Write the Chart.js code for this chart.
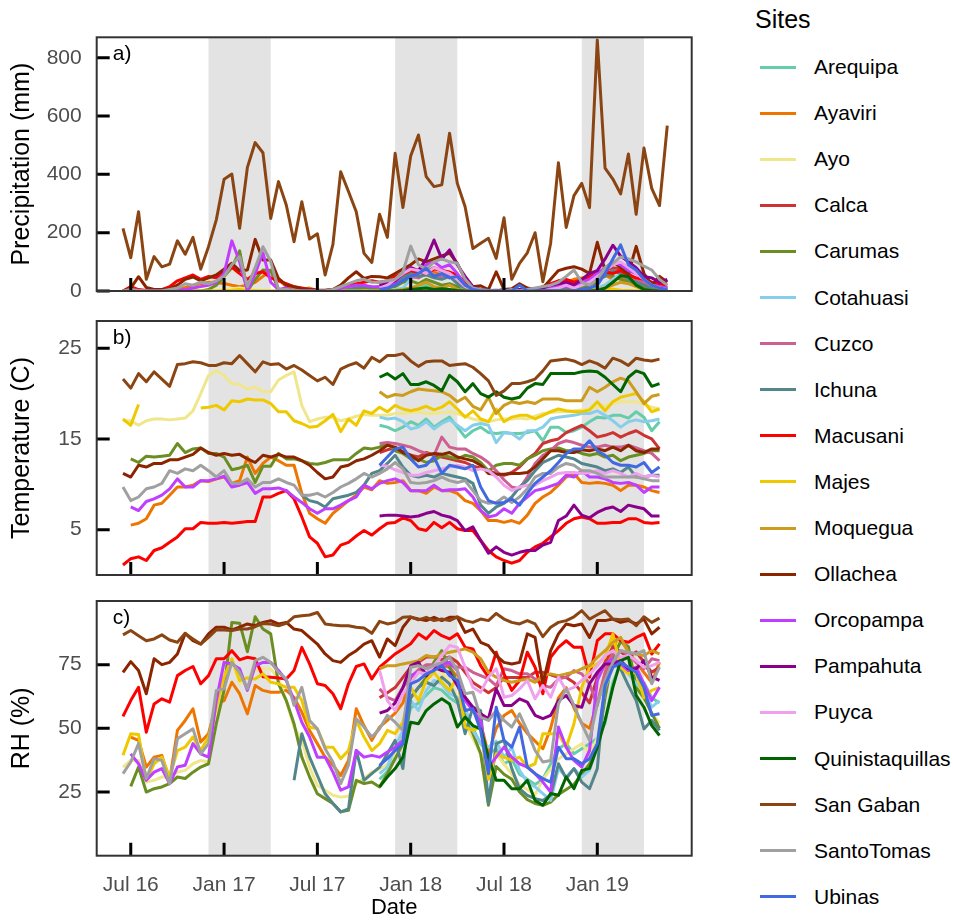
<!DOCTYPE html>
<html>
<head>
<meta charset="utf-8">
<title>Sites: precipitation, temperature and RH</title>
<script src="https://cdn.jsdelivr.net/npm/chart.js@4.4.1/dist/chart.umd.min.js"></script>
<style>
  html, body { margin: 0; padding: 0; background: #fff; }
  #wrap { position: relative; width: 953px; height: 921px; overflow: hidden;
          font-family: "Liberation Sans", Arial, Helvetica, sans-serif; }
  #wrap canvas { position: absolute; left: 0; }
  #legendTitle { position: absolute; left: 755px; top: 4px; font-size: 25px; line-height: 30px; color: #000; }
  .lg-row { position: absolute; left: 0; width: 213px; height: 30px; }
  .lg-key { position: absolute; left: 760px; width: 36px; height: 3px; top: 13.5px; }
  .lg-text { position: absolute; left: 814px; top: 0; font-size: 21px; line-height: 30px; color: #000; white-space: nowrap; }
</style>
</head>
<body>
<div id="wrap">
  <canvas id="panelA" width="700" height="321" style="top:0px"></canvas>
  <canvas id="panelB" width="700" height="315" style="top:290px"></canvas>
  <canvas id="panelC" width="700" height="351" style="top:570px"></canvas>
  <div id="legendTitle">Sites</div>
  <div id="legendRows"></div>
</div>
<script>
// ---- sites and colours ----
const sites = ['Arequipa','Ayaviri','Ayo','Calca','Carumas','Cotahuasi','Cuzco','Ichuna','Macusani','Majes',
               'Moquegua','Ollachea','Orcopampa','Pampahuta','Puyca','Quinistaquillas','San Gaban','SantoTomas','Ubinas'];
const siteColors = ['#66CDAA','#EE7600','#F0E68C','#CD3333','#6B8E23','#87CEEB','#CD6090','#53868B','#FF0000','#EEC900',
                    '#CD9B1D','#8B2500','#BF3EFF','#8B008B','#EEA2EE','#006400','#8B4513','#A0A0A0','#4169E1'];

// ---- time axis (months counted from Jan 2016; samples every half month from mid-Jun 2016) ----
const firstPeriod = 5.5;
const periodCount = 71;
const periods = Array.from({length: periodCount}, (_, k) => firstPeriod + k / 2);
const tickMonths = [6, 12, 18, 24, 30, 36];
const tickLabels = ['Jul 16', 'Jan 17', 'Jul 17', 'Jan 18', 'Jul 18', 'Jan 19'];
const wetSeasons = [[11, 15], [23, 27], [35, 39]];   // Dec-Mar shading
const xMin = 3.81, xMax = 42.07;

const gap = n => Array(n).fill(null);
const join = (...parts) => [].concat(...parts);

// ---- precipitation (mm) ----
const precipArequipa = join(gap(33), [0,0,2,5,10,15,20,10,15,20,10,5,0,0,0,0,0,0,0,0,0,0,0,0,0,0,0,5,10,20,40,50,30,20,10,5,3,0]);
const precipAyaviri = join(gap(1), [3,0,0,0,0,2,5,12,20,25,30,28,26,20,15,20,30,50,72,40,15,10,5,10,2,0,0,0,5,10,15,10],
  [10,15,30,45,55,70,60,65,55,60,40,15,5,0,0,0,0,0,2,0,3,10,15,20,30,40,45,50,60,55,40,45,35,20,15,10,8,5]);
const precipAyo = join([0,0,0,0,0,0,0,0,0,0,0,0,2,5,8,10,5,3,2,0,0,0,0,0,0,0,0,0,0,0,0,0,0],
  [0,0,0,2,5,3,5,2,2,0,0,0,0,0,0,0,0,0,0,0,0,0,0,0,0,0,0,2,5,8,5,3,2,0,0,0,0,0]);
const precipCalca = join(gap(33), [20,25,40,55,60,70,65,80,70,60,40,15,5,0,0,0,0,0,5,0,5,10,20,30,35,30,40,50,60,70,80,75,60,40,30,20,15,10]);
const precipCarumas = join(gap(1), [0,0,0,0,0,0,0,0,0,0,5,20,50,80,138,0,40,72,70,5,0,0,0,0,0,0,0,0,0,5,10,8],
  [5,8,15,30,35,25,40,30,20,25,15,5,0,0,0,0,0,0,0,0,0,0,0,5,5,8,10,20,30,60,50,40,30,20,10,5,5,3]);
const precipCotahuasi = join(gap(33), [0,0,5,10,40,60,70,55,45,50,30,5,0,0,0,0,0,0,0,0,0,0,0,0,0,0,0,5,10,20,40,60,80,70,50,30,15,5]);
const precipCuzco = join(gap(33), [15,20,30,40,50,45,60,55,50,60,40,15,5,0,0,0,0,0,5,0,5,10,15,20,25,20,25,40,50,60,70,65,50,40,30,20,15,10]);
const precipIchuna = join(gap(22), [0,0,0,0,0,0,2,5,10,15,10],
  [15,20,30,45,60,50,55,45,40,50,25,10,2,0,0,0,0,0,0,0,2,5,5,10,15,10,20,30,40,50,70,60,40,30,20,10,10,5]);
const precipMacusani = join([0,15,5,2,3,5,15,35,45,55,40,50,45,70,81,60,40,60,66,45,35,25,15,10,5,3,2,5,10,20,25,30,35],
  [30,35,50,60,70,65,60,75,70,65,55,30,10,5,2,3,2,3,5,2,5,15,25,35,40,30,35,45,60,65,60,70,55,45,40,30,25,20]);
const precipMajes = join([0,0,0,0,0,0,0,0,0,0,0,0,0,2,3,5,2,1,0,0,0,0,0,0,0,0,0,0,0,0,0,0,0],
  [0,0,0,0,2,3,2,3,1,0,0,0,0,0,0,0,0,0,0,0,0,0,0,0,0,0,0,0,2,4,6,3,2,0,0,0,0,0]);
const precipMoquegua = join(gap(33), [0,0,2,5,10,20,30,15,10,20,5,0,0,0,0,0,0,0,0,0,0,0,0,0,0,0,0,2,5,10,20,30,25,15,5,2,0,0]);
const precipOllachea = join([0,10,49,12,5,5,8,20,40,48,35,45,55,75,95,70,72,177,106,106,43,20,15,8,5,3,3,5,20,45,66,43,50],
  [49,45,60,75,90,110,100,110,120,130,95,40,15,18,5,66,5,8,25,10,5,10,40,70,78,83,75,60,167,70,100,80,60,153,60,20,50,30]);
const precipOrcopampa = join(gap(1), [0,0,0,0,0,0,2,5,10,15,20,30,60,172,100,0,60,131,30,5,10,0,0,0,0,0,2,10,15,20,20,15],
  [15,20,30,60,80,70,90,100,80,90,60,20,0,0,0,0,0,0,5,0,0,10,10,15,15,10,30,40,60,80,100,90,70,60,40,20,15,10]);
const precipPampahuta = join(gap(33), [20,25,35,60,80,70,110,175,110,141,90,50,15,5,0,0,5,0,5,2,5,10,20,25,30,20,40,60,70,110,157,120,100,80,50,45,30,40]);
const precipPuyca = join(gap(33), [10,20,40,60,75,70,60,80,70,60,40,15,5,0,0,0,0,0,0,0,0,0,5,10,20,10,20,30,50,70,90,100,80,60,40,20,10,5]);
const precipQuinistaquillas = join(gap(33), [0,0,0,2,5,8,10,5,8,5,2,0,0,0,0,0,0,0,0,0,0,0,0,0,0,0,0,0,2,10,30,52,50,20,5,2,0,0]);
const precipSanGaban = [215,114,272,40,118,83,92,172,126,184,75,152,244,383,401,215,424,509,474,249,375,295,169,306,178,196,55,160,409,341,272,129,98,263,184,472,
  286,463,535,392,358,364,541,369,289,146,164,181,112,251,40,95,131,200,32,164,440,218,327,369,286,861,421,384,333,470,263,490,352,293,567];
const precipSantoTomas = join([0,5,2,0,0,0,5,10,25,20,30,25,35,50,90,118,15,80,152,101,6,5,2,0,0,0,0,5,15,25,35,40,30],
  [30,35,40,65,154,90,75,100,110,100,95,40,10,5,2,0,0,5,0,5,10,15,20,30,50,72,30,20,40,80,95,117,110,100,85,72,40,20]);
const precipUbinas = join(gap(33), [5,10,20,35,50,60,78,50,60,45,50,20,5,0,0,0,0,0,20,0,0,0,0,0,0,0,5,10,20,60,110,158,90,72,40,20,10,5]);

// ---- temperature (C) ----
const tempArequipa = join(gap(33), [16.5,16.3,15.9,16.3,16.9,16.5,17.2,16.3,16.9,17.4,16.3,15.2,15.9,16.3,15.7,15.6,15.7,15.6,15.6,15.7,15.9,14.8,16.3,16.3,15.7,15.9,16.3,16.9,17.4,17.3,17.6,17.6,17.3,18.0,17.4,15.9,16.9]);
const tempAyaviri = join(gap(1), [5.5,5.7,6.2,7.7,7.9,8.8,9.7,9.7,9.9,10.4,10.3,10.6,10.8,10.1,10.4,13.0,11.2,12.3,13.0,12.6,12.1,12.1,9.0,6.8,6.2,5.7,6.8,7.5,8.2,8.8,9.7],
  [9.4,10.4,10.1,10.2,10.4,9.3,9.3,9.0,9.7,9.3,9.3,9.0,8.2,7.9,7.1,6.0,6.0,5.8,6.0,5.7,6.6,7.9,8.6,9.1,9.9,10.8,11.2,10.2,10.1,10.2,10.1,9.9,9.3,9.9,9.9,9.7,9.3,9.1]);
const tempAyo = join([17.0,17.0,16.5,17.0,17.2,17.2,17.1,17.2,17.3,18.1,20.0,22.0,22.5,22.0,21.1,21.0,20.5,20.7,20.2,20.2,21.5,22.0,22.4,18.7,16.9,17.2,17.4,17.4,17.0,17.2,17.5,17.7,17.6,17.6,17.6],
  [17.8,17.8,17.9,18.0,17.8,17.8,17.9,18.0,17.8,17.5,17.2,17.0,16.9,17.1,17.2,17.2,17.3,17.2,17.5,17.8,17.9,18.0,18.0,18.1,18.2,18.3,18.5,18.7,18.9,19.1,19.1,19.1,18.8,18.5,18.3]);
const tempCalca = join(gap(33), [13.5,13.8,14.0,13.6,13.2,13.0,13.5,13.2,13.0,12.8,12.6,12.4,12.0,11.8,11.5,11.2,11.0,11.3,
  11.9,12.8,13.4,14.5,14.8,15.0,15.7,16.1,16.5,15.9,15.2,15.4,15.7,15.2,15.6,15.9,15.4,15.0,13.9]);
const tempCarumas = join(gap(1), [12.8,12.4,13.1,13.0,13.1,13.2,14.5,13.5,13.9,14.0,13.4,13.4,13.0,11.6,11.8,12.1,10.2,12.0,12.0,13.4,12.8,12.8,12.6,12.3,12.2,12.4,12.7,12.7,12.7,13.4,14.0],
  [13.9,14.1,14.5,13.7,13.4,12.8,12.8,12.4,12.6,13.2,13.0,12.8,13.2,13.0,12.4,11.5,12.1,12.3,12.3,12.1,12.8,13.2,13.7,13.9,14.0,13.7,13.7,13.4,13.2,13.4,13.0,13.2,12.6,13.0,13.2,13.4,13.7,13.7]);
const tempCotahuasi = join(gap(33), [17.4,17.2,17.3,16.9,16.1,16.3,16.9,16.1,16.7,17.1,16.5,15.9,16.5,16.7,16.5,14.6,15.7,15.6,15.0,15.9,15.9,16.3,17.2,17.4,17.5,17.6,17.8,17.8,18.1,17.6,17.0,16.3,16.9,17.1,16.9,17.0,17.2]);
const tempCuzco = join(gap(33), [14.5,14.6,14.5,14.3,14.1,13.7,13.4,13.2,15.2,14.1,13.9,13.9,13.4,13.0,12.4,11.5,10.5,9.7,9.5,10.8,12.3,13.2,13.7,14.5,14.8,14.6,14.3,14.1,14.1,14.3,14.1,14.1,14.3,14.0,13.7,13.4,12.6]);
const tempIchuna = join(gap(23), [8.8,8.2,8.0,7.5,8.4,8.6,8.8,9.1,9.9],
  [11.2,11.5,12.3,13.2,11.9,11.0,10.8,11.0,10.8,11.2,11.0,10.8,10.6,10.1,7.7,6.8,7.5,7.9,8.6,9.7,10.4,11.5,12.4,12.8,13.2,13.0,12.8,12.3,12.1,11.9,11.5,11.7,11.3,11.9,10.8,10.8,11.0,11.0]);
const tempMacusani = join([1.1,1.8,2.0,1.6,2.7,3.0,3.6,4.2,5.1,5.1,5.8,5.7,5.7,5.8,5.7,5.8,5.9,5.9,8.6,8.6,9.0,9.3,8.4,6.4,4.2,3.5,2.0,2.2,3.3,3.6,4.3,4.9],
  [4.4,5.1,5.7,5.8,6.3,6.0,5.1,4.9,5.8,5.2,5.8,5.1,4.9,4.9,3.8,2.7,2.0,1.6,1.3,1.6,2.5,3.1,3.5,4.2,4.9,5.7,6.2,6.4,6.2,5.7,5.7,5.8,5.8,6.2,6.2,5.8,5.7,5.8]);
const tempMajes = join([17.2,16.5,18.8], gap(7),
  [18.4,18.5,18.7,18.2,19.2,19.1,19.4,19.3,19.3,18.9,18.0,18.0,17.0,16.7,16.3,16.4,17.0,17.7,15.8,17.2,16.5,18.1,17.8,18.5,18.0,18.7],
  [18.3,18.1,18.3,18.6,18.2,18.5,19.1,18.3,17.4,18.1,17.2,16.9,18.3,16.9,17.4,17.6,17.6,17.2,17.6,18.0,18.3,18.1,18.0,18.0,18.2,19.1,18.1,19.1,19.6,19.8,20.0,19.1,18.0,18.3]);
const tempMoquegua = join(gap(33), [20.2,19.6,19.9,19.8,20.2,20.5,20.4,20.3,20.2,19.8,19.1,19.6,18.6,18.2,19.6,17.8,18.7,19.1,18.9,19.1,18.9,19.4,19.4,19.4,19.2,19.2,19.2,20.7,20.2,20.7,21.3,21.7,21.4,20.2,18.9,19.7,19.9]);
const tempOllachea = join([11.2,10.8,12.1,11.9,12.3,12.3,12.7,12.7,13.0,13.3,14.0,13.5,13.2,13.4,13.2,13.3,12.8,12.4,13.2,13.0,13.3,13.0,13.0,12.6,12.1,11.3,10.6,10.8,11.9,12.1,12.6,12.8],
  [13.2,13.7,14.3,14.1,13.5,13.2,12.6,13.2,13.4,13.3,13.5,13.0,12.8,12.6,12.1,11.2,11.1,11.1,11.2,11.2,11.3,11.9,12.8,13.7,13.7,13.5,13.5,13.8,13.7,13.9,13.7,14.1,13.7,14.3,13.7,13.5,13.9,13.9]);
const tempOrcopampa = join(gap(1), [7.5,7.1,8.1,8.4,8.8,9.5,10.6,9.7,9.7,10.4,10.4,10.6,10.9,9.7,9.9,10.2,9.0,9.5,9.5,9.6,9.3,8.6,8.0,7.3,6.8,7.3,7.3,7.7,8.2,8.6,9.9],
  [9.5,10.1,10.4,10.6,10.2,9.3,9.3,9.3,9.9,9.3,9.4,9.4,9.5,8.6,7.1,6.4,6.6,7.3,6.8,7.9,8.6,9.3,9.5,9.8,10.1,11.0,10.8,11.5,10.8,10.8,10.6,10.2,10.1,10.2,9.9,9.1,9.7,9.7]);
const tempPampahuta = join(gap(33), [6.5,6.6,6.6,6.5,6.4,6.5,6.8,7.0,6.6,6.4,6.0,4.9,5.3,3.8,2.4,3.1,2.5,2.2,2.5,2.7,2.7,3.3,3.6,6.0,6.5,7.7,6.6,6.3,6.9,7.3,7.5,7.0,7.7,7.5,7.3,6.5,6.5]);
const tempPuyca = join(gap(33), [12.1,12.0,11.6,11.3,11.0,11.0,11.3,11.5,11.7,11.9,12.1,11.9,11.5,11.7,11.5,10.8,9.9,9.3,9.7,9.9,9.9,10.4,10.8,11.2,11.3,11.3,11.2,11.3,11.5,11.2,11.5,11.2,10.8,11.2,10.8,11.0,10.8]);
const tempQuinistaquillas = join(gap(33), [21.8,22.2,21.6,22.2,21.0,21.0,21.3,20.9,20.3,22.0,21.3,20.2,21.1,20.0,19.6,20.2,19.6,19.4,19.6,20.6,21.1,21.0,22.2,22.2,22.2,22.2,22.4,22.5,22.4,21.8,21.0,20.2,21.8,22.5,22.2,20.8,21.1]);
const tempSanGaban = [21.6,20.6,22.2,21.3,22.4,21.6,20.8,23.2,23.3,23.5,23.4,23.1,23.1,23.4,23.3,24.2,23.3,22.4,23.5,23.2,23.3,22.7,23.1,22.6,22.0,21.4,21.8,21.0,22.7,23.1,23.4,22.8,24.0,23.5,24.2,
  24.2,24.4,23.6,23.0,23.5,23.6,23.6,23.1,23.2,23.3,22.9,22.2,21.4,19.8,20.3,21.1,21.1,21.3,21.6,22.5,23.6,23.7,23.8,23.6,23.2,23.6,23.3,22.8,23.9,23.6,23.1,23.9,23.7,23.6,23.8];
const tempSantoTomas = join([9.7,8.2,8.6,9.5,9.7,10.1,11.5,11.2,11.7,11.5,12.1,11.5,10.8,11.5,10.1,10.1,10.6,9.7,10.2,10.2,10.6,10.2,9.9,8.8,8.8,9.0,8.6,9.1,9.7,10.1,10.6,11.2],
  [10.8,11.2,11.7,12.4,11.7,10.2,10.1,10.2,10.4,10.8,10.4,10.2,10.4,9.3,8.2,7.9,8.0,8.6,8.0,8.6,9.5,10.8,11.2,11.2,11.9,12.3,12.1,11.5,11.5,11.2,10.8,10.8,10.8,10.8,10.8,10.6,10.4,10.4]);
const tempUbinas = join(gap(33), [12.1,13.0,13.9,14.1,12.8,11.9,12.1,13.0,11.2,12.1,11.9,11.7,12.1,9.7,8.2,7.9,8.0,8.4,7.7,9.0,10.1,10.8,11.5,12.4,13.4,13.9,13.9,14.8,13.7,13.2,12.4,12.1,12.1,11.9,12.4,11.3,11.9]);

// ---- relative humidity (%) ----
const rhArequipa = join(gap(33), [30,33,40,47,58,60,63,66,65,62,60,56,50,44,40,42,36,38,32,30,28,30,36,42,44,40,42,44,46,52,68,75,74,70,68,62,60]);
const rhAyaviri = join(gap(1), [46.6,45.3,34.8,38.7,39.4,29.6,49.2,53.1,57.7,44.6,47.9,59.6,60.9,68.1,63.6,55.7,66.8,64.9,64.2,64.2,64.9,62.2,56.3,49.2,44.0,38.7,35.5,31.5,37.4,57.7,51.0],
  [45.3,50.5,53.1,56.0,60.0,70.0,72.0,74.0,73.0,75.0,74.0,70.0,62.0,58.0,52.0,40.0,50.0,55.0,57.0,52.0,48.0,45.0,42.0,50.0,62.0,66.0,58.0,52.0,50.0,60.0,72.0,82.0,85.0,80.0,76.0,72.0,68.0,76.0]);
const rhAyo = join([34.8,37.4,37.4,28.9,29.6,30.9,30.9,32.8,33.5,36.1,37.4,36.8,54.4,71.4,76.6,67.5,69.8,72.7,73.4,73.4,69.4,60.9,50.5,45.3,34.8,27.6,25.7,23.7,23.0,23.3,28.3,30.3],
  [32.8,34,36,40,46,62,66,70,74,72,68,62,52,46,40,30,40,36,32,28,26,24,30,34,38,40,42,44,40,46,64,76,86,80,70,62,56,52]);
const rhCalca = join(gap(33), [62,64,66,70,74,76,78,78,77,78,76,72,68,66,64,66,70,70,70,70,72,72,71,70,70,68,64,60,70,76,82,80,78,80,76,72,74]);
const rhCarumas = join(gap(1), [27.2,34.8,25.0,26.3,27.0,28.3,30.9,30.3,32.8,34.8,36.1,51.8,64.9,91.6,91.3,80.1,93.8,89.0,87.1,67.5,60.9,51.8,38.7,30.9,24.3,22.4,20.5,17.2,17.8,29.6,28.3],
  [28.9,27.0,32.2,38.0,44.0,62.0,66.0,70.0,76.0,80.5,74.0,68.0,56.0,48.0,40.0,19.8,35.0,32.0,30.0,25.0,22.0,20.5,19.8,21.0,24.0,26.0,28.0,32.0,36.0,42.6,62.0,78.0,84.0,82.0,66.0,62.0,56.0,50.0]);
const rhCotahuasi = join(gap(33), [32.2,34.8,42.6,49.2,60.9,57.0,64.9,68.8,67.5,63.6,62.2,58.3,49.2,44.0,42.6,45.0,38.7,42.6,33.5,28.9,27.0,24.4,21.7,34.2,30.9,34.2,30.9,33.5,42.6,66.1,74.0,75.3,71.4,67.5,64.9,58.3,60.9]);
const rhCuzco = join(gap(33), [65.5,62.2,60.9,66.1,70.0,73.0,75.0,75.0,74.0,75.0,74.0,74.0,72.0,70.7,69.4,66.8,73.4,72.7,71.4,71.4,69.4,66.8,66.1,69.4,70.1,72.7,71.4,67.5,59.0,71.4,79.2,80.5,79.2,75.9,73.4,77.3,76.6]);
const rhIchuna = join(gap(22), [29.6,47.9,38.7,31.5,24.3,20.5,17.2,18.4,41.3,29.6],
  [32.2,34.8,40.0,45.3,34.2,62.2,66.1,68.1,66.8,70.1,67.5,60.9,47.9,58.3,57.0,20.5,44.0,45.3,34.2,26.3,23.7,22.4,21.7,23.7,36.1,30.3,34.2,28.9,26.3,34.2,67.5,75.9,73.4,66.8,60.9,49.8,53.1,49.2]);
const rhMacusani = join([54.7,60.9,66.1,48.5,59.6,61.6,60.3,70.7,72.7,74.3,67.5,70.7,77.3,77.3,80.5,76.9,77.9,77.3,70.3,70.1,69.8,69.4,72.7,81.8,75.3,67.5,66.8,63.6,57.7,67.5,74.3,75.3],
  [69.4,74.0,76.6,79.2,81.2,83.2,87.1,85.1,88.4,86.4,85.1,87.1,81.8,81.2,74.6,70.1,79.9,71.4,64.9,68.8,79.9,74.0,63.6,77.9,81.8,84.4,81.8,81.8,70.1,84.4,87.1,87.1,84.4,83.8,85.7,87.1,79.2,83.2]);
const rhMajes = join([39.4,47.9,47.6,29.6,36.1,38.7,30.9,41.3,42.6,46.6,41.3,46.6,58.3,70.1,77.3,68.8,69.8,69.4,71.4,68.1,67.5,66.1,66.1,60.9,50.5,49.8,42.6,42.6,38.1,41.3,53.1,46.6],
  [41.3,44.0,49.2,47.9,52.4,66.1,60.9,68.8,72.0,68.1,64.9,70.1,50.5,49.2,50.5,30.0,40.0,38.7,37.4,38.7,34.8,36.1,47.9,47.9,47.9,42.6,51.8,66.1,74.0,75.3,77.9,87.1,74.0,71.4,72.0,62.0,64.9,66.0]);
const rhMoquegua = join(gap(33), [73.4,74.6,74.6,75.3,75.9,76.6,78.6,77.9,79.2,79.9,80.5,81.2,79.9,77.3,72.0,70.1,68.8,68.1,68.8,69.4,68.1,70.7,71.4,70.7,71.4,72.0,73.4,74.6,77.9,80.5,83.8,85.7,79.9,79.2,78.6,80.5,79.2]);
const rhOllachea = join([72.0,76.2,72.7,63.6,77.3,75.0,75.9,79.2,87.3,84.4,83.1,87.1,89.7,89.7,88.6,89.7,91.0,90.3,91.6,92.3,91.0,91.6,89.0,88.4,85.7,83.1,79.2,76.6,75.9,78.6,80.5,83.1],
  [84.4,78.0,85.1,82.5,89.7,93.6,92.9,92.3,93.6,92.3,93.6,93.6,87.7,89.0,83.8,82.5,78.6,75.9,75.3,75.9,87.1,85.7,67.5,80.5,87.1,91.0,90.3,91.0,85.7,92.3,92.3,92.9,91.6,92.3,91.0,92.9,87.1,89.7]);
const rhOrcopampa = join(gap(1), [40.0,36.1,29.6,32.8,34.2,28.3,34.8,35.5,44.0,40.0,38.7,60.9,75.9,75.3,73.4,64.9,74.6,75.9,75.9,72.7,68.8,60.9,52.4,46.6,38.7,38.7,32.8,25.7,27.0,41.3,38.7],
  [39.4,38.7,40.7,42.6,45.3,70.7,72.0,71.4,74.6,75.3,75.9,72.7,60.9,57.0,53.1,34.8,38.7,42.6,38.7,36.1,34.8,32.2,28.9,25.0,50.5,42.6,37.4,34.8,41.3,68.8,75.3,77.3,75.3,72.7,74.0,67.5,60.9,66.1]);
const rhPampahuta = join(gap(33), [56.0,57.0,60.0,66.0,74.6,75.9,70.7,74.0,72.7,72.0,66.8,62.2,58.3,55.7,53.8,65.5,59.0,59.0,61.6,60.3,55.1,53.8,55.1,60.9,62.9,59.0,58.3,67.5,72.0,75.3,75.3,76.6,73.4,73.4,76.6,70.1,68.8]);
const rhPuyca = join(gap(33), [72.7,60.9,57.0,63.6,67.5,72.0,71.4,74.6,78.6,82.5,81.8,74.0,66.1,64.2,70.1,73.4,62.2,62.9,65.5,68.8,61.6,66.8,62.2,70.1,64.9,66.1,68.8,71.4,74.6,78.6,80.5,77.9,78.6,76.6,74.0,74.6,75.9]);
const rhQuinistaquillas = join(gap(33), [27.0,30.9,34.2,38.7,52.4,51.8,57.0,59.6,61.6,59.6,50.5,54.4,51.1,49.8,38.7,29.6,29.6,26.3,26.3,29.6,21.7,19.8,24.4,23.7,30.9,26.3,33.5,34.2,42.6,53.1,66.1,76.6,77.9,62.9,58.3,51.1,47.2]);
const rhSanGaban = [86.7,88.4,86.4,84.4,85.1,86.7,84.7,83.8,87.3,85.1,83.1,85.7,88.6,88.6,88.4,89.0,89.0,89.9,91.2,91.0,90.3,91.2,93.8,94.2,94.5,95.5,91.0,90.6,90.3,90.3,89.7,89.4,87.3,
  92.0,91.0,91.6,93.6,93.8,92.6,93.6,92.3,92.9,92.3,93.8,92.3,91.6,92.9,92.3,95.1,92.9,91.6,91.0,92.3,91.0,86.0,89.7,91.6,92.3,93.8,96.2,92.9,94.6,96.2,92.9,92.6,92.9,90.3,93.8,91.6,93.3];
const rhSantoTomas = join([32.2,36.8,44.0,30.3,38.1,37.4,28.3,45.9,47.9,49.8,40.0,44.0,64.9,65.5,75.9,72.0,65.5,76.6,77.9,75.9,72.0,69.4,59.0,66.1,53.1,49.8,42.0,36.8,28.3,35.5,53.8,50.5],
  [46.6,49.8,55.1,52.4,49.2,74.0,74.6,73.4,74.6,75.9,77.9,72.7,63.6,64.2,54.4,53.1,57.0,53.1,50.5,55.7,49.0,41.3,36.8,37.4,59.6,65.5,59.0,51.8,45.3,59.6,68.8,75.9,80.5,79.9,79.2,80.5,67.5,74.0]);
const rhUbinas = join(gap(33), [35.5,38.1,41.3,44.0,67.5,68.8,71.4,72.7,74.6,70.7,68.8,57.0,57.7,49.2,32.2,58.3,45.3,42.6,50.5,34.8,32.2,30.3,28.9,42.6,38.1,38.1,36.1,38.1,44.0,66.8,74.0,75.9,74.0,72.0,66.1,55.1,55.7]);

const precipSeries = [precipArequipa, precipAyaviri, precipAyo, precipCalca, precipCarumas, precipCotahuasi, precipCuzco, precipIchuna,
  precipMacusani, precipMajes, precipMoquegua, precipOllachea, precipOrcopampa, precipPampahuta, precipPuyca, precipQuinistaquillas,
  precipSanGaban, precipSantoTomas, precipUbinas];
const tempSeries = [tempArequipa, tempAyaviri, tempAyo, tempCalca, tempCarumas, tempCotahuasi, tempCuzco, tempIchuna,
  tempMacusani, tempMajes, tempMoquegua, tempOllachea, tempOrcopampa, tempPampahuta, tempPuyca, tempQuinistaquillas,
  tempSanGaban, tempSantoTomas, tempUbinas];
const rhSeries = [rhArequipa, rhAyaviri, rhAyo, rhCalca, rhCarumas, rhCotahuasi, rhCuzco, rhIchuna,
  rhMacusani, rhMajes, rhMoquegua, rhOllachea, rhOrcopampa, rhPampahuta, rhPuyca, rhQuinistaquillas,
  rhSanGaban, rhSantoTomas, rhUbinas];

const precipTicks = [0, 200, 400, 600, 800];
const tempTicks = [5, 15, 25];
const rhTicks = [25, 50, 75];

// ---- drawing ----
const FONT = '"Liberation Sans", Arial, Helvetica, sans-serif';
Chart.defaults.font.family = FONT;

// shaded wet seasons, inward tick marks, panel frame and panel tag
const panelDecor = {
  id: 'panelDecor',
  beforeDatasetsDraw(chart) {
    const {ctx, chartArea: a, scales: {x}} = chart;
    ctx.save();
    ctx.fillStyle = '#e3e3e3';
    for (const [s, e] of wetSeasons) {
      const x0 = Math.max(x.getPixelForValue(s), a.left);
      const x1 = Math.min(x.getPixelForValue(e), a.right);
      if (x1 > x0) ctx.fillRect(x0, a.top, x1 - x0, a.bottom - a.top);
    }
    ctx.restore();
  },
  afterDatasetsDraw(chart, args, opts) {
    const {ctx, chartArea: a, scales: {x, y}} = chart;
    ctx.save();
    ctx.strokeStyle = '#000';
    ctx.lineWidth = 3;
    ctx.beginPath();
    x.ticks.forEach(t => {
      const px = x.getPixelForValue(t.value);
      ctx.moveTo(px, a.bottom); ctx.lineTo(px, a.bottom - 13);
    });
    y.ticks.forEach(t => {
      const py = y.getPixelForValue(t.value);
      ctx.moveTo(a.left, py); ctx.lineTo(a.left + 13, py);
    });
    ctx.stroke();
    ctx.strokeStyle = '#333';
    ctx.lineWidth = 2;
    ctx.strokeRect(a.left, a.top, a.right - a.left, a.bottom - a.top);
    ctx.fillStyle = '#000';
    ctx.font = '21px ' + FONT;
    ctx.textAlign = 'left';
    ctx.textBaseline = 'middle';
    ctx.fillText(opts.tag, a.left + 16, a.top + 17);
    ctx.restore();
  }
};

function makePanel(canvasId, seriesList, yMin, yMax, yTicks, yTitle, tag, pad, xHeight, showX) {
  const datasets = seriesList.map((vals, i) => ({
    label: sites[i],
    data: vals.map((v, k) => ({x: periods[k], y: v})),
    borderColor: siteColors[i],
    backgroundColor: siteColors[i],
    borderWidth: 3,
    pointRadius: 0,
    tension: 0,
    spanGaps: false,
    borderJoinStyle: 'round',
    order: sites.length - i
  }));
  return new Chart(document.getElementById(canvasId), {
    type: 'line',
    data: {datasets},
    plugins: [panelDecor],
    options: {
      responsive: false,
      animation: false,
      devicePixelRatio: 1,
      events: [],
      layout: {padding: pad},
      plugins: {legend: {display: false}, tooltip: {enabled: false}, panelDecor: {tag}},
      scales: {
        x: {
          type: 'linear', min: xMin, max: xMax,
          grid: {display: false, drawTicks: false},
          border: {display: false},
          afterBuildTicks: s => { s.ticks = tickMonths.map(v => ({value: v})); },
          afterFit: s => { s.height = xHeight; },
          ticks: {
            display: showX, padding: 17, color: '#4d4d4d', font: {size: 21},
            maxRotation: 0, autoSkip: false,
            callback: (v, idx) => tickLabels[idx]
          },
          title: {display: showX, text: 'Date', color: '#000', font: {size: 22}, padding: {top: 0, bottom: 0}}
        },
        y: {
          type: 'linear', min: yMin, max: yMax,
          grid: {display: false, drawTicks: false},
          border: {display: false},
          afterBuildTicks: s => { s.ticks = yTicks.map(v => ({value: v})); },
          afterFit: s => { s.width = 96.7; },
          ticks: {padding: 15, color: '#4d4d4d', font: {size: 21}, autoSkip: false},
          title: {display: true, text: yTitle, color: '#000', font: {size: 25}, padding: {top: 7, bottom: 0}}
        }
      }
    }
  });
}

makePanel('panelA', precipSeries, 0, 870, precipTicks, 'Precipitation (mm)', 'a)',
  {top: 37.3, right: 8.3, bottom: 30, left: 0}, 0, false);
makePanel('panelB', tempSeries, 0, 28, tempTicks, 'Temperature (C)', 'b)',
  {top: 31, right: 8.3, bottom: 30, left: 0}, 0, false);
makePanel('panelC', rhSeries, 0, 100, rhTicks, 'RH (%)', 'c)',
  {top: 31, right: 8.3, bottom: 0, left: 0}, 65.3, true);

// ---- legend ----
const rows = document.getElementById('legendRows');
sites.forEach((name, i) => {
  const row = document.createElement('div');
  row.className = 'lg-row';
  row.style.top = (67 + 46.1 * i - 15) + 'px';
  const key = document.createElement('span');
  key.className = 'lg-key';
  key.style.background = siteColors[i];
  const txt = document.createElement('span');
  txt.className = 'lg-text';
  txt.textContent = name;
  row.appendChild(key);
  row.appendChild(txt);
  rows.appendChild(row);
});
</script>
</body>
</html>
